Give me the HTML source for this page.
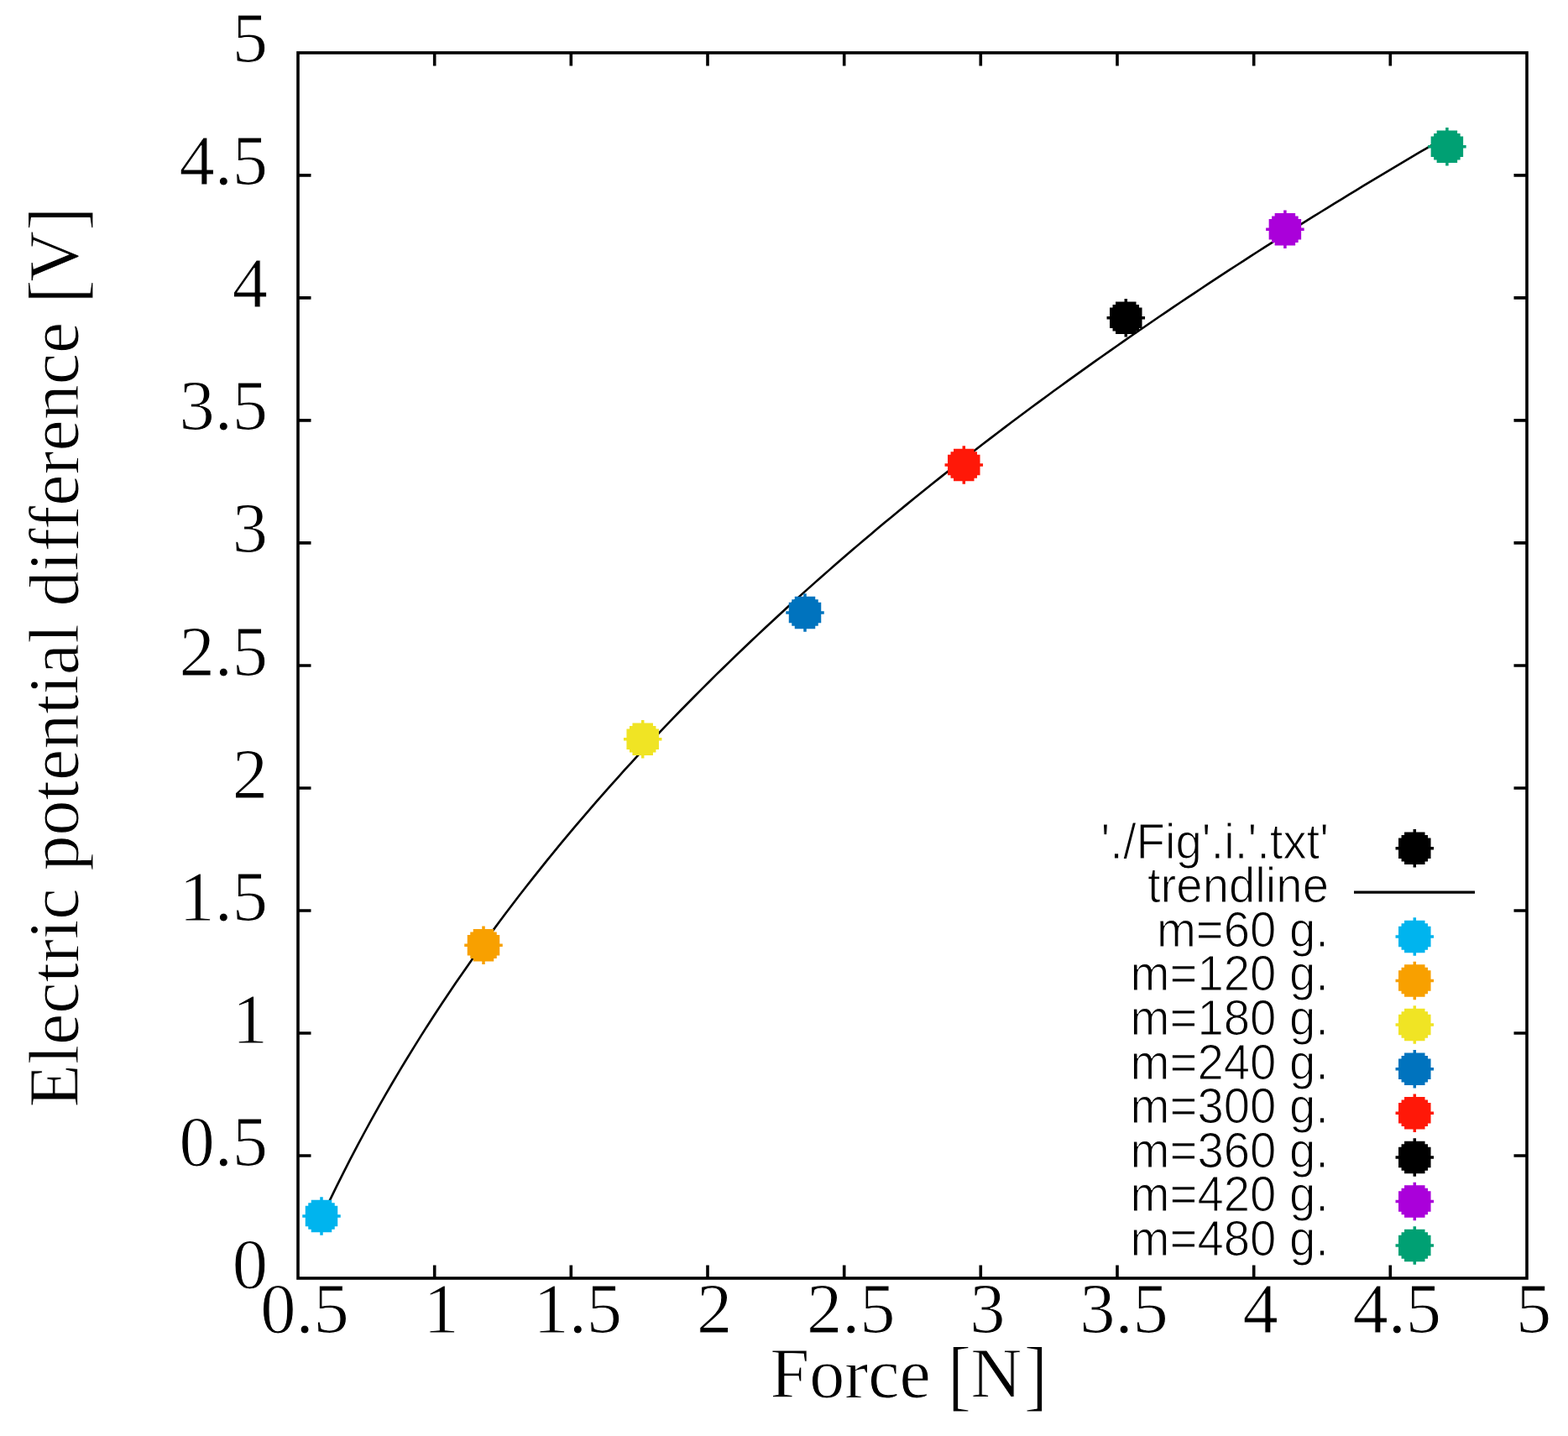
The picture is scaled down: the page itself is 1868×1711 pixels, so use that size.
<!DOCTYPE html><html><head><meta charset="utf-8"><style>html,body{margin:0;padding:0;background:#fff;width:1868px;height:1711px;overflow:hidden}svg{display:block}</style></head><body>
<svg width="1868" height="1711" viewBox="0 0 1868 1711">
<rect width="1868" height="1711" fill="#fff"/>
<path d="M517.7,1523.0 V1507.5 M517.7,62.9 V78.4 M680.3,1523.0 V1507.5 M680.3,62.9 V78.4 M843.0,1523.0 V1507.5 M843.0,62.9 V78.4 M1005.7,1523.0 V1507.5 M1005.7,62.9 V78.4 M1168.3,1523.0 V1507.5 M1168.3,62.9 V78.4 M1331.0,1523.0 V1507.5 M1331.0,62.9 V78.4 M1493.7,1523.0 V1507.5 M1493.7,62.9 V78.4 M1656.3,1523.0 V1507.5 M1656.3,62.9 V78.4 M355.0,1377.0 H370.5 M1819.0,1377.0 H1803.5 M355.0,1231.0 H370.5 M1819.0,1231.0 H1803.5 M355.0,1085.0 H370.5 M1819.0,1085.0 H1803.5 M355.0,939.0 H370.5 M1819.0,939.0 H1803.5 M355.0,793.0 H370.5 M1819.0,793.0 H1803.5 M355.0,646.9 H370.5 M1819.0,646.9 H1803.5 M355.0,500.9 H370.5 M1819.0,500.9 H1803.5 M355.0,354.9 H370.5 M1819.0,354.9 H1803.5 M355.0,208.9 H370.5 M1819.0,208.9 H1803.5" stroke="#000" stroke-width="3.6" fill="none"/>
<rect x="355.0" y="62.9" width="1464.0" height="1460.1" fill="none" stroke="#000" stroke-width="3.6"/>
<polyline points="383.82,1449.35 392.2,1431.65 400.58,1414.41 408.96,1397.6 417.34,1381.19 425.72,1365.16 434.09,1349.49 442.47,1334.15 450.85,1319.14 459.23,1304.43 467.61,1290.0 475.98,1275.85 484.36,1261.96 492.74,1248.31 501.12,1234.9 509.5,1221.72 517.87,1208.76 526.25,1196.0 534.63,1183.45 543.01,1171.08 551.39,1158.9 559.77,1146.9 568.14,1135.06 576.52,1123.39 584.9,1111.88 593.28,1100.53 601.66,1089.32 610.03,1078.25 618.41,1067.33 626.79,1056.53 635.17,1045.87 643.55,1035.33 651.93,1024.92 660.3,1014.62 668.68,1004.44 677.06,994.37 685.44,984.41 693.82,974.56 702.19,964.8 710.57,955.15 718.95,945.6 727.33,936.14 735.71,926.77 744.08,917.49 752.46,908.3 760.84,899.2 769.22,890.18 777.6,881.25 785.98,872.39 794.35,863.61 802.73,854.91 811.11,846.28 819.49,837.72 827.87,829.24 836.24,820.83 844.62,812.48 853.0,804.2 861.38,795.99 869.76,787.84 878.14,779.76 886.51,771.73 894.89,763.77 903.27,755.87 911.65,748.02 920.03,740.24 928.4,732.5 936.78,724.83 945.16,717.2 953.54,709.64 961.92,702.12 970.29,694.65 978.67,687.24 987.05,679.87 995.43,672.55 1003.81,665.28 1012.19,658.06 1020.56,650.88 1028.94,643.75 1037.32,636.66 1045.7,629.62 1054.08,622.62 1062.45,615.66 1070.83,608.75 1079.21,601.88 1087.59,595.04 1095.97,588.25 1104.35,581.5 1112.72,574.78 1121.1,568.11 1129.48,561.47 1137.86,554.87 1146.24,548.3 1154.61,541.77 1162.99,535.28 1171.37,528.82 1179.75,522.4 1188.13,516.01 1196.5,509.65 1204.88,503.33 1213.26,497.04 1221.64,490.78 1230.02,484.56 1238.4,478.36 1246.77,472.2 1255.15,466.07 1263.53,459.97 1271.91,453.89 1280.29,447.85 1288.66,441.84 1297.04,435.85 1305.42,429.9 1313.8,423.97 1322.18,418.07 1330.56,412.19 1338.93,406.35 1347.31,400.53 1355.69,394.74 1364.07,388.97 1372.45,383.23 1380.82,377.51 1389.2,371.82 1397.58,366.16 1405.96,360.52 1414.34,354.9 1422.71,349.31 1431.09,343.74 1439.47,338.2 1447.85,332.68 1456.23,327.18 1464.61,321.7 1472.98,316.25 1481.36,310.82 1489.74,305.41 1498.12,300.03 1506.5,294.66 1514.87,289.32 1523.25,284.0 1531.63,278.7 1540.01,273.42 1548.39,268.16 1556.77,262.92 1565.14,257.7 1573.52,252.5 1581.9,247.32 1590.28,242.16 1598.66,237.02 1607.03,231.9 1615.41,226.8 1623.79,221.72 1632.17,216.65 1640.55,211.6 1648.92,206.58 1657.3,201.57 1665.68,196.58 1674.06,191.6 1682.44,186.64 1690.82,181.71 1699.19,176.78 1707.57,171.88 1715.95,166.99 1724.33,162.12" fill="none" stroke="#000" stroke-width="2.6" stroke-linejoin="round"/>
<path transform="translate(383,1449)" fill="#00B4EE" d="M-1.75,-22.75 L1.75,-22.75 L1.75,-19.25 L12.25,-19.25 L12.25,-15.75 L15.75,-15.75 L15.75,-12.25 L19.25,-12.25 L19.25,-1.75 L22.75,-1.75 L22.75,1.75 L19.25,1.75 L19.25,12.25 L15.75,12.25 L15.75,15.75 L12.25,15.75 L12.25,19.25 L1.75,19.25 L1.75,22.75 L-1.75,22.75 L-1.75,19.25 L-12.25,19.25 L-12.25,15.75 L-15.75,15.75 L-15.75,12.25 L-19.25,12.25 L-19.25,1.75 L-22.75,1.75 L-22.75,-1.75 L-19.25,-1.75 L-19.25,-12.25 L-15.75,-12.25 L-15.75,-15.75 L-12.25,-15.75 L-12.25,-19.25 L-1.75,-19.25Z"/>
<path transform="translate(576,1126.3)" fill="#F8A000" d="M-1.75,-22.75 L1.75,-22.75 L1.75,-19.25 L12.25,-19.25 L12.25,-15.75 L15.75,-15.75 L15.75,-12.25 L19.25,-12.25 L19.25,-1.75 L22.75,-1.75 L22.75,1.75 L19.25,1.75 L19.25,12.25 L15.75,12.25 L15.75,15.75 L12.25,15.75 L12.25,19.25 L1.75,19.25 L1.75,22.75 L-1.75,22.75 L-1.75,19.25 L-12.25,19.25 L-12.25,15.75 L-15.75,15.75 L-15.75,12.25 L-19.25,12.25 L-19.25,1.75 L-22.75,1.75 L-22.75,-1.75 L-19.25,-1.75 L-19.25,-12.25 L-15.75,-12.25 L-15.75,-15.75 L-12.25,-15.75 L-12.25,-19.25 L-1.75,-19.25Z"/>
<path transform="translate(765.7,880.8)" fill="#F0E424" d="M-1.75,-22.75 L1.75,-22.75 L1.75,-19.25 L12.25,-19.25 L12.25,-15.75 L15.75,-15.75 L15.75,-12.25 L19.25,-12.25 L19.25,-1.75 L22.75,-1.75 L22.75,1.75 L19.25,1.75 L19.25,12.25 L15.75,12.25 L15.75,15.75 L12.25,15.75 L12.25,19.25 L1.75,19.25 L1.75,22.75 L-1.75,22.75 L-1.75,19.25 L-12.25,19.25 L-12.25,15.75 L-15.75,15.75 L-15.75,12.25 L-19.25,12.25 L-19.25,1.75 L-22.75,1.75 L-22.75,-1.75 L-19.25,-1.75 L-19.25,-12.25 L-15.75,-12.25 L-15.75,-15.75 L-12.25,-15.75 L-12.25,-19.25 L-1.75,-19.25Z"/>
<path transform="translate(959,730)" fill="#0073BE" d="M-1.75,-22.75 L1.75,-22.75 L1.75,-19.25 L12.25,-19.25 L12.25,-15.75 L15.75,-15.75 L15.75,-12.25 L19.25,-12.25 L19.25,-1.75 L22.75,-1.75 L22.75,1.75 L19.25,1.75 L19.25,12.25 L15.75,12.25 L15.75,15.75 L12.25,15.75 L12.25,19.25 L1.75,19.25 L1.75,22.75 L-1.75,22.75 L-1.75,19.25 L-12.25,19.25 L-12.25,15.75 L-15.75,15.75 L-15.75,12.25 L-19.25,12.25 L-19.25,1.75 L-22.75,1.75 L-22.75,-1.75 L-19.25,-1.75 L-19.25,-12.25 L-15.75,-12.25 L-15.75,-15.75 L-12.25,-15.75 L-12.25,-19.25 L-1.75,-19.25Z"/>
<path transform="translate(1148.3,554.1)" fill="#FF1808" d="M-1.75,-22.75 L1.75,-22.75 L1.75,-19.25 L12.25,-19.25 L12.25,-15.75 L15.75,-15.75 L15.75,-12.25 L19.25,-12.25 L19.25,-1.75 L22.75,-1.75 L22.75,1.75 L19.25,1.75 L19.25,12.25 L15.75,12.25 L15.75,15.75 L12.25,15.75 L12.25,19.25 L1.75,19.25 L1.75,22.75 L-1.75,22.75 L-1.75,19.25 L-12.25,19.25 L-12.25,15.75 L-15.75,15.75 L-15.75,12.25 L-19.25,12.25 L-19.25,1.75 L-22.75,1.75 L-22.75,-1.75 L-19.25,-1.75 L-19.25,-12.25 L-15.75,-12.25 L-15.75,-15.75 L-12.25,-15.75 L-12.25,-19.25 L-1.75,-19.25Z"/>
<path transform="translate(1341.3,378.7)" fill="#000000" d="M-1.75,-22.75 L1.75,-22.75 L1.75,-19.25 L12.25,-19.25 L12.25,-15.75 L15.75,-15.75 L15.75,-12.25 L19.25,-12.25 L19.25,-1.75 L22.75,-1.75 L22.75,1.75 L19.25,1.75 L19.25,12.25 L15.75,12.25 L15.75,15.75 L12.25,15.75 L12.25,19.25 L1.75,19.25 L1.75,22.75 L-1.75,22.75 L-1.75,19.25 L-12.25,19.25 L-12.25,15.75 L-15.75,15.75 L-15.75,12.25 L-19.25,12.25 L-19.25,1.75 L-22.75,1.75 L-22.75,-1.75 L-19.25,-1.75 L-19.25,-12.25 L-15.75,-12.25 L-15.75,-15.75 L-12.25,-15.75 L-12.25,-19.25 L-1.75,-19.25Z"/>
<path transform="translate(1530.9,273.3)" fill="#AA00DA" d="M-1.75,-22.75 L1.75,-22.75 L1.75,-19.25 L12.25,-19.25 L12.25,-15.75 L15.75,-15.75 L15.75,-12.25 L19.25,-12.25 L19.25,-1.75 L22.75,-1.75 L22.75,1.75 L19.25,1.75 L19.25,12.25 L15.75,12.25 L15.75,15.75 L12.25,15.75 L12.25,19.25 L1.75,19.25 L1.75,22.75 L-1.75,22.75 L-1.75,19.25 L-12.25,19.25 L-12.25,15.75 L-15.75,15.75 L-15.75,12.25 L-19.25,12.25 L-19.25,1.75 L-22.75,1.75 L-22.75,-1.75 L-19.25,-1.75 L-19.25,-12.25 L-15.75,-12.25 L-15.75,-15.75 L-12.25,-15.75 L-12.25,-19.25 L-1.75,-19.25Z"/>
<path transform="translate(1723.9,174.8)" fill="#00A073" d="M-1.75,-22.75 L1.75,-22.75 L1.75,-19.25 L12.25,-19.25 L12.25,-15.75 L15.75,-15.75 L15.75,-12.25 L19.25,-12.25 L19.25,-1.75 L22.75,-1.75 L22.75,1.75 L19.25,1.75 L19.25,12.25 L15.75,12.25 L15.75,15.75 L12.25,15.75 L12.25,19.25 L1.75,19.25 L1.75,22.75 L-1.75,22.75 L-1.75,19.25 L-12.25,19.25 L-12.25,15.75 L-15.75,15.75 L-15.75,12.25 L-19.25,12.25 L-19.25,1.75 L-22.75,1.75 L-22.75,-1.75 L-19.25,-1.75 L-19.25,-12.25 L-15.75,-12.25 L-15.75,-15.75 L-12.25,-15.75 L-12.25,-19.25 L-1.75,-19.25Z"/>
<g font-family="'Liberation Serif', 'Times New Roman', serif" font-size="84.5" fill="#000" stroke="#fff" stroke-width="1.0">
<text x="319" y="1534.5" text-anchor="end">0</text>
<text x="319" y="1388.5" text-anchor="end">0.5</text>
<text x="319" y="1242.5" text-anchor="end">1</text>
<text x="319" y="1096.5" text-anchor="end">1.5</text>
<text x="319" y="950.5" text-anchor="end">2</text>
<text x="319" y="804.5" text-anchor="end">2.5</text>
<text x="319" y="658.4" text-anchor="end">3</text>
<text x="319" y="512.4" text-anchor="end">3.5</text>
<text x="319" y="366.4" text-anchor="end">4</text>
<text x="319" y="220.4" text-anchor="end">4.5</text>
<text x="319" y="74.4" text-anchor="end">5</text>
<text x="363.0" y="1587.5" text-anchor="middle">0.5</text>
<text x="525.7" y="1587.5" text-anchor="middle">1</text>
<text x="688.3" y="1587.5" text-anchor="middle">1.5</text>
<text x="851.0" y="1587.5" text-anchor="middle">2</text>
<text x="1013.7" y="1587.5" text-anchor="middle">2.5</text>
<text x="1176.3" y="1587.5" text-anchor="middle">3</text>
<text x="1339.0" y="1587.5" text-anchor="middle">3.5</text>
<text x="1501.7" y="1587.5" text-anchor="middle">4</text>
<text x="1664.3" y="1587.5" text-anchor="middle">4.5</text>
<text x="1827.0" y="1587.5" text-anchor="middle">5</text>
</g>
<g font-family="'Liberation Serif', 'Times New Roman', serif" font-size="84" fill="#000" stroke="#fff" stroke-width="1.0">
<text x="917.5" y="1664.5">Force</text>
<text transform="translate(1129,1670.1) scale(1,1.1)">[</text>
<text x="1156.6" y="1664.5">N</text>
<text transform="translate(1219.9,1670.1) scale(1,1.1)">]</text>
</g>
<g font-family="'Liberation Serif', 'Times New Roman', serif" font-size="84" fill="#000" stroke="#fff" stroke-width="1.0">
<text transform="translate(93,1319.6) rotate(-90)">Electric potential difference</text>
<text transform="translate(98.9,361.5) rotate(-90) scale(1,1.1)">[</text>
<text transform="translate(93,335.7) rotate(-90)">V</text>
<text transform="translate(98.9,274.7) rotate(-90) scale(1,1.1)">]</text>
</g>
<g font-family="'Liberation Sans', Arial, sans-serif" font-size="59" fill="#000">
<text x="0" y="0" text-anchor="end" stroke="#fff" stroke-width="1.2" transform="translate(1583,1022.5) scale(0.955,1)">'./Fig'.i.'.txt'</text>
<path transform="translate(1685.3,1010.7)" fill="#000000" d="M-1.75,-22.75 L1.75,-22.75 L1.75,-19.25 L12.25,-19.25 L12.25,-15.75 L15.75,-15.75 L15.75,-12.25 L19.25,-12.25 L19.25,-1.75 L22.75,-1.75 L22.75,1.75 L19.25,1.75 L19.25,12.25 L15.75,12.25 L15.75,15.75 L12.25,15.75 L12.25,19.25 L1.75,19.25 L1.75,22.75 L-1.75,22.75 L-1.75,19.25 L-12.25,19.25 L-12.25,15.75 L-15.75,15.75 L-15.75,12.25 L-19.25,12.25 L-19.25,1.75 L-22.75,1.75 L-22.75,-1.75 L-19.25,-1.75 L-19.25,-12.25 L-15.75,-12.25 L-15.75,-15.75 L-12.25,-15.75 L-12.25,-19.25 L-1.75,-19.25Z"/>
<text x="0" y="0" text-anchor="end" stroke="#fff" stroke-width="1.2" transform="translate(1583,1075.1) scale(0.955,1)">trendline</text>
<path d="M1613,1063.2 H1757" stroke="#000" stroke-width="3.2"/>
<text x="0" y="0" text-anchor="end" stroke="#fff" stroke-width="1.2" transform="translate(1583,1127.7) scale(0.955,1)">m=60 g.</text>
<path transform="translate(1685.3,1115.9)" fill="#00B4EE" d="M-1.75,-22.75 L1.75,-22.75 L1.75,-19.25 L12.25,-19.25 L12.25,-15.75 L15.75,-15.75 L15.75,-12.25 L19.25,-12.25 L19.25,-1.75 L22.75,-1.75 L22.75,1.75 L19.25,1.75 L19.25,12.25 L15.75,12.25 L15.75,15.75 L12.25,15.75 L12.25,19.25 L1.75,19.25 L1.75,22.75 L-1.75,22.75 L-1.75,19.25 L-12.25,19.25 L-12.25,15.75 L-15.75,15.75 L-15.75,12.25 L-19.25,12.25 L-19.25,1.75 L-22.75,1.75 L-22.75,-1.75 L-19.25,-1.75 L-19.25,-12.25 L-15.75,-12.25 L-15.75,-15.75 L-12.25,-15.75 L-12.25,-19.25 L-1.75,-19.25Z"/>
<text x="0" y="0" text-anchor="end" stroke="#fff" stroke-width="1.2" transform="translate(1583,1180.3) scale(0.955,1)">m=120 g.</text>
<path transform="translate(1685.3,1168.5)" fill="#F8A000" d="M-1.75,-22.75 L1.75,-22.75 L1.75,-19.25 L12.25,-19.25 L12.25,-15.75 L15.75,-15.75 L15.75,-12.25 L19.25,-12.25 L19.25,-1.75 L22.75,-1.75 L22.75,1.75 L19.25,1.75 L19.25,12.25 L15.75,12.25 L15.75,15.75 L12.25,15.75 L12.25,19.25 L1.75,19.25 L1.75,22.75 L-1.75,22.75 L-1.75,19.25 L-12.25,19.25 L-12.25,15.75 L-15.75,15.75 L-15.75,12.25 L-19.25,12.25 L-19.25,1.75 L-22.75,1.75 L-22.75,-1.75 L-19.25,-1.75 L-19.25,-12.25 L-15.75,-12.25 L-15.75,-15.75 L-12.25,-15.75 L-12.25,-19.25 L-1.75,-19.25Z"/>
<text x="0" y="0" text-anchor="end" stroke="#fff" stroke-width="1.2" transform="translate(1583,1232.9) scale(0.955,1)">m=180 g.</text>
<path transform="translate(1685.3,1221.1)" fill="#F0E424" d="M-1.75,-22.75 L1.75,-22.75 L1.75,-19.25 L12.25,-19.25 L12.25,-15.75 L15.75,-15.75 L15.75,-12.25 L19.25,-12.25 L19.25,-1.75 L22.75,-1.75 L22.75,1.75 L19.25,1.75 L19.25,12.25 L15.75,12.25 L15.75,15.75 L12.25,15.75 L12.25,19.25 L1.75,19.25 L1.75,22.75 L-1.75,22.75 L-1.75,19.25 L-12.25,19.25 L-12.25,15.75 L-15.75,15.75 L-15.75,12.25 L-19.25,12.25 L-19.25,1.75 L-22.75,1.75 L-22.75,-1.75 L-19.25,-1.75 L-19.25,-12.25 L-15.75,-12.25 L-15.75,-15.75 L-12.25,-15.75 L-12.25,-19.25 L-1.75,-19.25Z"/>
<text x="0" y="0" text-anchor="end" stroke="#fff" stroke-width="1.2" transform="translate(1583,1285.5) scale(0.955,1)">m=240 g.</text>
<path transform="translate(1685.3,1273.7)" fill="#0073BE" d="M-1.75,-22.75 L1.75,-22.75 L1.75,-19.25 L12.25,-19.25 L12.25,-15.75 L15.75,-15.75 L15.75,-12.25 L19.25,-12.25 L19.25,-1.75 L22.75,-1.75 L22.75,1.75 L19.25,1.75 L19.25,12.25 L15.75,12.25 L15.75,15.75 L12.25,15.75 L12.25,19.25 L1.75,19.25 L1.75,22.75 L-1.75,22.75 L-1.75,19.25 L-12.25,19.25 L-12.25,15.75 L-15.75,15.75 L-15.75,12.25 L-19.25,12.25 L-19.25,1.75 L-22.75,1.75 L-22.75,-1.75 L-19.25,-1.75 L-19.25,-12.25 L-15.75,-12.25 L-15.75,-15.75 L-12.25,-15.75 L-12.25,-19.25 L-1.75,-19.25Z"/>
<text x="0" y="0" text-anchor="end" stroke="#fff" stroke-width="1.2" transform="translate(1583,1338.1) scale(0.955,1)">m=300 g.</text>
<path transform="translate(1685.3,1326.3)" fill="#FF1808" d="M-1.75,-22.75 L1.75,-22.75 L1.75,-19.25 L12.25,-19.25 L12.25,-15.75 L15.75,-15.75 L15.75,-12.25 L19.25,-12.25 L19.25,-1.75 L22.75,-1.75 L22.75,1.75 L19.25,1.75 L19.25,12.25 L15.75,12.25 L15.75,15.75 L12.25,15.75 L12.25,19.25 L1.75,19.25 L1.75,22.75 L-1.75,22.75 L-1.75,19.25 L-12.25,19.25 L-12.25,15.75 L-15.75,15.75 L-15.75,12.25 L-19.25,12.25 L-19.25,1.75 L-22.75,1.75 L-22.75,-1.75 L-19.25,-1.75 L-19.25,-12.25 L-15.75,-12.25 L-15.75,-15.75 L-12.25,-15.75 L-12.25,-19.25 L-1.75,-19.25Z"/>
<text x="0" y="0" text-anchor="end" stroke="#fff" stroke-width="1.2" transform="translate(1583,1390.7) scale(0.955,1)">m=360 g.</text>
<path transform="translate(1685.3,1378.9)" fill="#000000" d="M-1.75,-22.75 L1.75,-22.75 L1.75,-19.25 L12.25,-19.25 L12.25,-15.75 L15.75,-15.75 L15.75,-12.25 L19.25,-12.25 L19.25,-1.75 L22.75,-1.75 L22.75,1.75 L19.25,1.75 L19.25,12.25 L15.75,12.25 L15.75,15.75 L12.25,15.75 L12.25,19.25 L1.75,19.25 L1.75,22.75 L-1.75,22.75 L-1.75,19.25 L-12.25,19.25 L-12.25,15.75 L-15.75,15.75 L-15.75,12.25 L-19.25,12.25 L-19.25,1.75 L-22.75,1.75 L-22.75,-1.75 L-19.25,-1.75 L-19.25,-12.25 L-15.75,-12.25 L-15.75,-15.75 L-12.25,-15.75 L-12.25,-19.25 L-1.75,-19.25Z"/>
<text x="0" y="0" text-anchor="end" stroke="#fff" stroke-width="1.2" transform="translate(1583,1443.3) scale(0.955,1)">m=420 g.</text>
<path transform="translate(1685.3,1431.5)" fill="#AA00DA" d="M-1.75,-22.75 L1.75,-22.75 L1.75,-19.25 L12.25,-19.25 L12.25,-15.75 L15.75,-15.75 L15.75,-12.25 L19.25,-12.25 L19.25,-1.75 L22.75,-1.75 L22.75,1.75 L19.25,1.75 L19.25,12.25 L15.75,12.25 L15.75,15.75 L12.25,15.75 L12.25,19.25 L1.75,19.25 L1.75,22.75 L-1.75,22.75 L-1.75,19.25 L-12.25,19.25 L-12.25,15.75 L-15.75,15.75 L-15.75,12.25 L-19.25,12.25 L-19.25,1.75 L-22.75,1.75 L-22.75,-1.75 L-19.25,-1.75 L-19.25,-12.25 L-15.75,-12.25 L-15.75,-15.75 L-12.25,-15.75 L-12.25,-19.25 L-1.75,-19.25Z"/>
<text x="0" y="0" text-anchor="end" stroke="#fff" stroke-width="1.2" transform="translate(1583,1495.9) scale(0.955,1)">m=480 g.</text>
<path transform="translate(1685.3,1484.1)" fill="#00A073" d="M-1.75,-22.75 L1.75,-22.75 L1.75,-19.25 L12.25,-19.25 L12.25,-15.75 L15.75,-15.75 L15.75,-12.25 L19.25,-12.25 L19.25,-1.75 L22.75,-1.75 L22.75,1.75 L19.25,1.75 L19.25,12.25 L15.75,12.25 L15.75,15.75 L12.25,15.75 L12.25,19.25 L1.75,19.25 L1.75,22.75 L-1.75,22.75 L-1.75,19.25 L-12.25,19.25 L-12.25,15.75 L-15.75,15.75 L-15.75,12.25 L-19.25,12.25 L-19.25,1.75 L-22.75,1.75 L-22.75,-1.75 L-19.25,-1.75 L-19.25,-12.25 L-15.75,-12.25 L-15.75,-15.75 L-12.25,-15.75 L-12.25,-19.25 L-1.75,-19.25Z"/>
</g>
</svg></body></html>
